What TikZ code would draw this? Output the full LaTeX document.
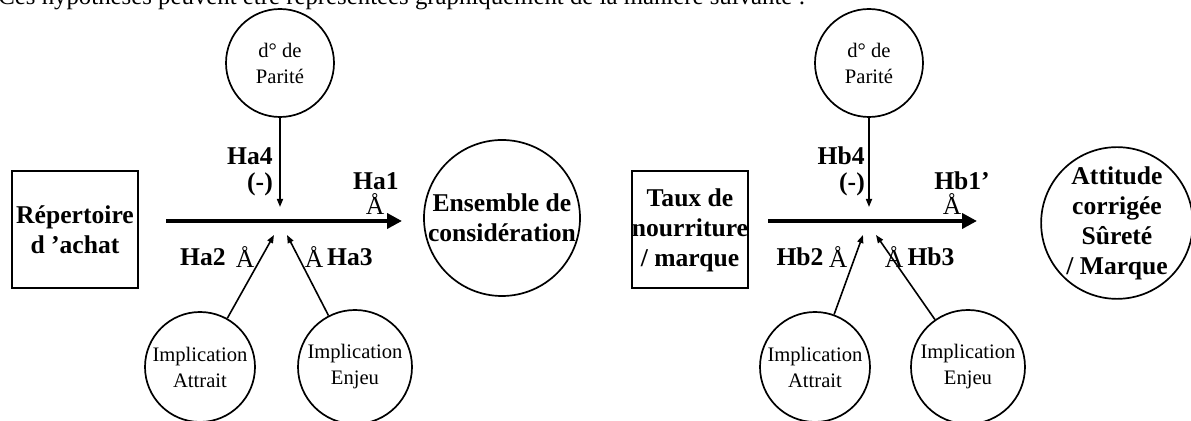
\documentclass[tikz,border=0pt]{standalone}
\usepackage{fontspec}
\setmainfont{Liberation Serif}
\usetikzlibrary{arrows.meta}

\tikzset{
  boite/.style={draw, line width=1pt, inner sep=0pt, align=center,
    font=\bfseries\fontsize{12.8}{15}\selectfont},
  rond/.style={draw, circle, line width=0.85pt, inner sep=0pt, align=center,
    font=\fontsize{10.3}{13}\selectfont, minimum size=55pt},
  grosrond/.style={rond, font=\bfseries\fontsize{12.8}{15}\selectfont},
  fleche/.style={line width=2.2pt, -{Triangle[length=7.5pt,width=7.5pt]}},
  filet/.style={line width=0.8pt, -{Triangle[length=4pt,width=3pt]}},
  hyp/.style={inner sep=0pt, font=\bfseries\fontsize{12.8}{15}\selectfont},
  signe/.style={inner sep=0pt, font=\fontsize{12.8}{15}\selectfont},
}

\begin{document}
\begin{tikzpicture}[x=0.5pt,y=-0.5pt]
    \useasboundingbox (0,0) rectangle (1191,421);
    \clip (0,0) rectangle (1191,421);
    \node [anchor=base west, inner sep=0pt, font=\fontsize{12.4}{14}\selectfont] (intro) at (-2,5) {Ces hypothèses peuvent être représentées graphiquement de la manière suivante :};
    % premier schema
    \node [boite, minimum width=63pt, minimum height=58.5pt] (rep) at (75,230) {Répertoire\\d 'achat};
    \node [grosrond, minimum size=78pt] (ens) at (502,218) {Ensemble de\\considération};
    \node [rond, minimum size=54pt] (pari) at (280,63) {d° de\\Parité};
    \node [rond, minimum size=55pt] (attr) at (200,367) {Implication\\Attrait};
    \node [rond, minimum size=57pt] (enj) at (355,367) {Implication\\Enjeu};
    \coordinate (a1) at (166,221);
    \coordinate (a2) at (402,221);
    \coordinate (pa) at (280,207);
    \coordinate (ia) at (274,235);
    \coordinate (ie) at (287,235);
    \draw [fleche] (a1) -- (a2);
    \draw [filet] (pari) -- (pa);
    \draw [filet] (attr) -- (ia);
    \draw [filet] (enj) -- (ie);
    \node [hyp, anchor=east] (ha4) at (273,156) {Ha4};
    \node [hyp] (ha4s) at (260,184) {(-)};
    \node [hyp] (ha1) at (376,181) {Ha1};
    \node [signe] (ha1s) at (375,204) {Å};
    \node [hyp] (ha2) at (203,257) {Ha2};
    \node [signe] (ha2s) at (245,257) {Å};
    \node [signe] (ha3s) at (314,257) {Å};
    \node [hyp] (ha3) at (350,257) {Ha3};
    % second schema
    \node [boite, minimum width=54pt, minimum height=58.5pt] (taux) at (690,230) {Taux de\\nourriture\\/ marque};
    \node [grosrond, minimum size=72pt] (atti) at (1117,223) {Attitude\\corrigée\\Sûreté\\/ Marque};
    \node [rond, minimum size=54pt] (paribis) at (869,63) {d° de\\Parité};
    \node [rond, minimum size=55pt] (attrbis) at (815,367) {Implication\\Attrait};
    \node [rond, minimum size=57pt] (enjbis) at (968,367) {Implication\\Enjeu};
    \coordinate (b1) at (768,221);
    \coordinate (b2) at (977,221);
    \coordinate (pb) at (869,207);
    \coordinate (ib) at (863,235);
    \coordinate (eb) at (876,235);
    \draw [fleche] (b1) -- (b2);
    \draw [filet] (paribis) -- (pb);
    \draw [filet] (attrbis) -- (ib);
    \draw [filet] (enjbis) -- (eb);
    \node [hyp, anchor=east] (hb4) at (865,156) {Hb4};
    \node [hyp] (hb4s) at (852,184) {(-)};
    \node [hyp] (hb1) at (962,181) {Hb1’};
    \node [signe] (hb1s) at (952,204) {Å};
    \node [hyp] (hb2) at (800,257) {Hb2};
    \node [signe] (hb2s) at (838,257) {Å};
    \node [signe] (hb3s) at (894,257) {Å};
    \node [hyp] (hb3) at (931,257) {Hb3};
\end{tikzpicture}
\end{document}
